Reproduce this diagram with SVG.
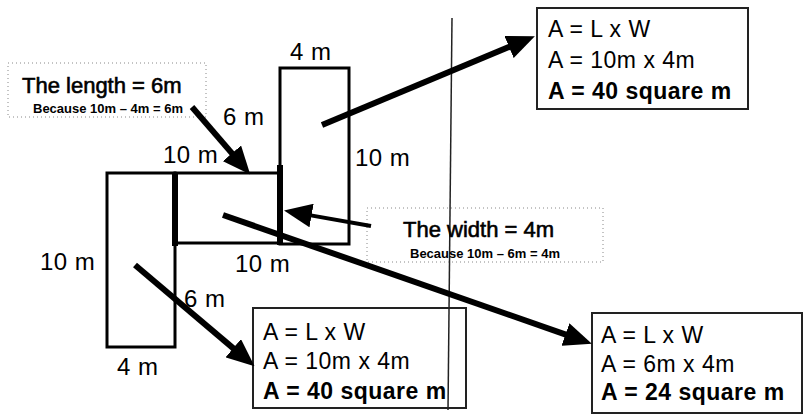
<svg xmlns="http://www.w3.org/2000/svg" width="807" height="417" viewBox="0 0 807 417">
<style>
.bg{fill:#fff}
.shape{fill:none;stroke:#000;stroke-width:3}
.thick{stroke:#000;stroke-width:6;fill:none}
.divider{stroke:#222;stroke-width:1.5;fill:none}
.dim{font-family:"Liberation Sans",Arial,sans-serif;font-size:24px;fill:#000;letter-spacing:0.5px}
.box{fill:none;stroke:#222;stroke-width:2}
.bt{font-family:"Liberation Sans",Arial,sans-serif;font-size:23px;fill:#000;letter-spacing:0.5px}
.bb{font-weight:bold}
.note{fill:none;stroke:#888;stroke-width:1;stroke-dasharray:1 3}
.nt{font-family:"Liberation Sans",Arial,sans-serif;font-size:22px;fill:#000;stroke:#000;stroke-width:0.6}
.ns{font-family:"Liberation Sans",Arial,sans-serif;font-size:13px;font-weight:bold;fill:#000}
.arrow{stroke:#000;stroke-width:6;fill:none;marker-end:url(#head)}
.arrow.thin{stroke-width:4}
</style>
<defs>
<marker id="head" markerUnits="userSpaceOnUse" markerWidth="28" markerHeight="24" refX="8" refY="12" orient="auto">
<path d="M0,0 L28,12 L0,24 Z" fill="#000"/>
</marker>
</defs>
<rect class="bg" x="0" y="0" width="807" height="417"/>

<g id="divider"><path class="divider" d="M452,18 L448,410"/></g>

<g id="shape-top">
<rect class="shape" x="280" y="68" width="69" height="176"/>
</g>
<g id="shape-middle">
<rect class="shape" x="175" y="173" width="105" height="70"/>
</g>
<g id="shape-left">
<rect class="shape" x="107" y="173" width="68" height="174"/>
</g>
<path class="thick" d="M175,172 L175,246 M280,165 L280,245"/>

<g id="dims">
<text class="dim" x="290" y="60">4 m</text>
<text class="dim" x="223" y="125">6 m</text>
<text class="dim" x="163" y="163">10 m</text>
<text class="dim" x="355" y="166">10 m</text>
<text class="dim" x="40" y="270">10 m</text>
<text class="dim" x="235" y="272">10 m</text>
<text class="dim" x="184" y="307">6 m</text>
<text class="dim" x="117" y="375">4 m</text>
</g>

<g id="note-length">
<rect class="note" x="8" y="63" width="198" height="54"/>
<text class="nt" x="22" y="93">The length = 6m</text>
<text class="ns" x="33" y="113">Because 10m – 4m = 6m</text>
</g>

<g id="note-width">
<rect class="note" x="367" y="208" width="236" height="54"/>
<text class="nt" x="403" y="237">The width = 4m</text>
<text class="ns" x="410" y="258">Because 10m – 6m = 4m</text>
</g>

<g id="box-top">
<rect class="box" x="537" y="8" width="211" height="101"/>
<text class="bt" x="548" y="37">A = L x W</text>
<text class="bt" x="548" y="68">A = 10m x 4m</text>
<text class="bt bb" x="548" y="99">A = 40 square m</text>
</g>

<g id="box-bottom-middle">
<rect class="box" x="253" y="308" width="213" height="100"/>
<text class="bt" x="263" y="340">A = L x W</text>
<text class="bt" x="263" y="369">A = 10m x 4m</text>
<text class="bt bb" x="263" y="399">A = 40 square m</text>
</g>

<g id="box-bottom-right">
<rect class="box" x="592" y="313" width="210" height="100"/>
<text class="bt" x="601" y="343">A = L x W</text>
<text class="bt" x="601" y="372">A = 6m x 4m</text>
<text class="bt bb" x="601" y="400">A = 24 square m</text>
</g>

<g id="connectors">
<path class="arrow" d="M192,107 L237.2,159.4"/>
<path class="arrow" d="M322,125 L516.4,43.9"/>
<path class="arrow thin" d="M371,226 L303.7,214.1"/>
<path class="arrow" d="M223,215 L573,337.1"/>
<path class="arrow" d="M135,265 L239.3,353.4"/>
</g>
</svg>
